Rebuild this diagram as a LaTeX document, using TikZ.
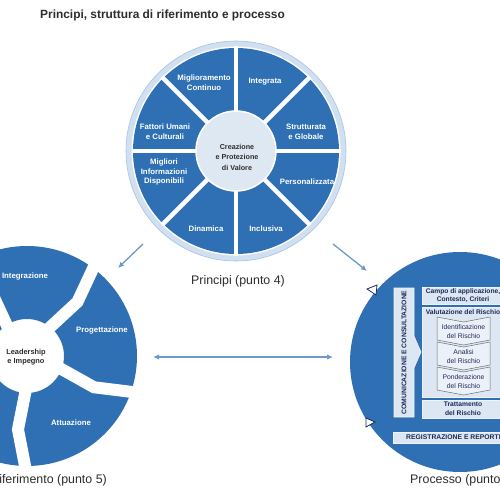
\documentclass[tikz,border=0pt]{standalone}
\usepackage{fontspec}
\setmainfont{Liberation Sans}
\usetikzlibrary{arrows.meta,calc}
\definecolor{blu}{RGB}{47,112,180}
\definecolor{ringc}{RGB}{208,224,241}
\definecolor{ringd}{RGB}{165,195,226}
\definecolor{core}{RGB}{222,232,243}
\definecolor{boxc}{RGB}{221,231,243}
\definecolor{navy}{RGB}{28,42,84}
\definecolor{arr}{RGB}{108,155,199}
\definecolor{ttl}{RGB}{45,45,45}
\definecolor{chev}{RGB}{110,110,115}
\begin{document}
\begin{tikzpicture}[x=1pt,y=-1pt,
  wlab/.style={text=white,font=\bfseries\fontsize{7.8}{9.6}\selectfont,align=center,inner sep=0},
  dlab/.style={text=ttl,font=\bfseries\fontsize{7.4}{9.4}\selectfont,align=center,inner sep=0},
  biglab/.style={text=ttl,font=\fontsize{12.4}{14}\selectfont,inner sep=0},
  pbox/.style={fill=boxc,draw=white!50!boxc,line width=0.6pt},
  ptext/.style={text=navy,font=\bfseries\fontsize{6.7}{8.6}\selectfont,align=center,inner sep=0},
  ctext/.style={text=navy,font=\fontsize{6.8}{8.6}\selectfont,align=center,inner sep=0},
  chevbox/.style={fill=white!40!boxc,draw=chev,line width=0.5pt},
  conn/.style={draw=arr,line width=1.3pt,-{Latex[length=6pt,width=5.5pt]}},
  conn2/.style={draw=arr,line width=1.3pt,{Latex[length=6pt,width=5.5pt]}-{Latex[length=6pt,width=5.5pt]}},
  tri/.style={draw=navy,fill=white,line width=0.8pt,line join=miter}]
\useasboundingbox (0,0) rectangle (500,500);
\clip (0,0) rectangle (500,500);
\fill[white] (0,0) rectangle (500,500);

% title
\node[anchor=base west,font=\bfseries\fontsize{11.9}{14}\selectfont,text=ttl,inner sep=0] (title) at (40,19) {Principi, struttura di riferimento e processo};

% ---------- Principi ----------
\coordinate (pc) at (236,151);
\fill[ringc] (pc) circle[radius=110];
\draw[ringd,line width=0.6pt] (pc) circle[radius=110];
\fill[white] (pc) circle[radius=104.5];
\fill[blu] (pc) circle[radius=103];
\foreach \a in {0,45,...,315}
  \draw[white,line width=4.5pt] ($(pc)+(\a:38)$) -- ($(pc)+(\a:104.5)$);
\fill[core] (pc) circle[radius=40];
\draw[white,line width=1.5pt] (pc) circle[radius=40];
\node[dlab,font=\bfseries\fontsize{7.2}{10.5}\selectfont] (valore) at (237,157) {Creazione\\e Protezione\\di Valore};
\node[wlab] (migl) at (204,83) {Miglioramento\\Continuo};
\node[wlab] (integ) at (265,82) {Integrata};
\node[wlab] (strut) at (306,132) {Strutturata\\e Globale};
\node[wlab] (pers) at (307,182) {Personalizzata};
\node[wlab] (incl) at (266,229) {Inclusiva};
\node[wlab] (dina) at (206,229) {Dinamica};
\node[wlab] (info) at (164,172) {Migliori\\Informazioni\\Disponibili};
\node[wlab] (fatt) at (165,132) {Fattori Umani\\e Culturali};
\node[biglab] (plab) at (238,281) {Principi (punto 4)};

% ---------- Struttura di riferimento ----------
\coordinate (lc) at (27,356);
\fill[blu,even odd rule] (lc) circle[radius=110] (lc) circle[radius=37];
\foreach \a in {-126,-54,18,90,162}
  \draw[white,line width=12pt,line join=miter] ($(lc)+(\a:28)$) -- ($(lc)+(\a+7:74)$) -- ($(lc)+(\a:120)$);
\node[wlab] (integr) at (25,276) {Integrazione};
\node[wlab] (prog) at (102,330) {Progettazione};
\node[wlab] (attu) at (71,423) {Attuazione};
\node[dlab] (lead) at (26,357) {Leadership\\e Impegno};
\node[biglab,anchor=east] (slab) at (107,480) {Struttura di riferimento (punto 5)};

% ---------- Processo ----------
\coordinate (rc) at (460,362);
\fill[blu] (rc) circle[radius=110];
\draw[pbox] (394,288) -- (414,288) -- (414,336) -- (421,352) -- (414,368) -- (414,417) -- (394,417) -- cycle;
\node[ptext,font=\bfseries\fontsize{6.8}{8}\selectfont,rotate=90] (comm) at (404,352.5) {COMUNICAZIONE E CONSULTAZIONE};
\draw[pbox] (422,287) rectangle (512,304);
\node[ptext] (campo) at (463,295.5) {Campo di applicazione,\\Contesto, Criteri};
\draw[pbox] (422,307) rectangle (512,397);
\node[ptext] (valu) at (463,312.5) {Valutazione del Rischio};
\foreach \t/\nm/\tx in {317/ident/Identificazione,342/anal/Analisi,367/pond/Ponderazione}{
  \draw[chevbox] (437,\t) -- (463.5,\t+5) -- (490,\t) -- (490,\t+23) -- (463.5,\t+28) -- (437,\t+23) -- cycle;
  \node[ctext] (\nm) at (463.5,\t+14.5) {\tx\\del Rischio};
}
\draw[pbox] (422,400) rectangle (512,418);
\node[ptext] (tratt) at (463,409) {Trattamento\\del Rischio};
\draw[pbox] (393,432) rectangle (520,443);
\node[ptext,anchor=west,font=\bfseries\fontsize{6.8}{8}\selectfont] (regi) at (406,437.5) {REGISTRAZIONE E REPORTING};
\draw[tri] (367,289) -- (377,285) -- (376,295) -- cycle;
\draw[tri] (366,418) -- (375,422) -- (366,427) -- cycle;
\node[biglab,anchor=west] (rlab) at (410,480) {Processo (punto 6)};

% ---------- connectors ----------
\coordinate (a1s) at (143,244);
\coordinate (a1e) at (118,268);
\coordinate (a2s) at (333,244);
\coordinate (a2e) at (367,271);
\coordinate (a3s) at (153,357);
\coordinate (a3e) at (333,357);
\draw[conn] (a1s) -- (a1e);
\draw[conn] (a2s) -- (a2e);
\draw[conn2] (a3s) -- (a3e);
\end{tikzpicture}
\end{document}
